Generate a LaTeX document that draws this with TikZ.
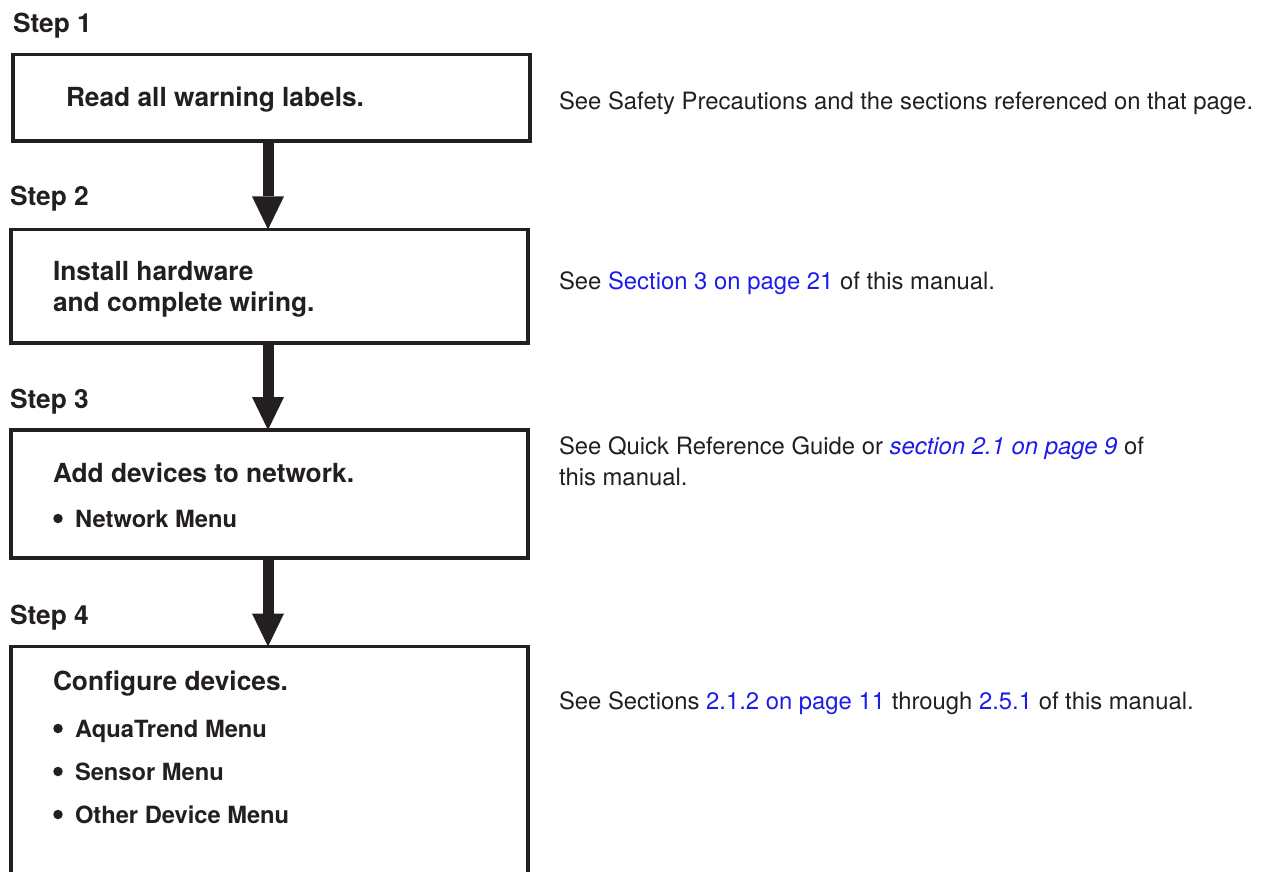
\documentclass[tikz,border=0pt]{standalone}
\usepackage{fontspec}
\setmainfont{TeX Gyre Heros}
\usetikzlibrary{arrows.meta}
\definecolor{ink}{RGB}{35,31,32}
\definecolor{linkblue}{RGB}{28,28,235}
\begin{document}
\begin{tikzpicture}[x=1pt,y=-1pt,
  box/.style={draw=ink,line width=3.6pt,inner sep=0pt,outer sep=0pt,rectangle},
  txt/.style={inner sep=0pt,outer sep=0pt,anchor=base west,text=ink,align=left},
  head/.style={txt,font=\fontsize{26.3}{31}\selectfont\bfseries},
  item/.style={txt,font=\fontsize{23.7}{28}\selectfont\bfseries},
  note/.style={txt,font=\fontsize{23.85}{31}\selectfont},
  dot/.style={circle,fill=ink,inner sep=0pt,minimum size=9.5pt},
  flow/.style={draw=ink,line width=11pt,-{Triangle[width=32pt,length=33pt,line width=0pt]}},
  link/.style={text=linkblue}]
\useasboundingbox (0,0) rectangle (1263,871);
\clip (0,0) rectangle (1263,871);

% boxes
\node[box,minimum width=517.5pt,minimum height=86.5pt] (b1) at (271.5,97.75) {};
\node[box,minimum width=517.3pt,minimum height=113.7pt] (b2) at (269.4,286.2) {};
\node[box,minimum width=517.3pt,minimum height=128pt] (b3) at (269.4,494) {};
\node[box,minimum width=517.3pt,minimum height=300pt] (b4) at (269.4,796.5) {};

% step labels
\node[head] (s1) at (13,32) {Step 1};
\node[head] (s2) at (10,205) {Step 2};
\node[head] (s3) at (10,408) {Step 3};
\node[head] (s4) at (10,624) {Step 4};

% box texts
\node[head] (t1) at (66,106.5) {Read all warning labels.};
\node[head] (t2a) at (53,280) {Install hardware};
\node[head] (t2b) at (53,311) {and complete wiring.};
\node[head] (t3) at (53,482) {Add devices to network.};
\node[head] (t4) at (53,690) {Configure devices.};

\node[item] (i31) at (75,527) {Network Menu};
\node[item] (i41) at (75,737) {AquaTrend Menu};
\node[item] (i42) at (75,780) {Sensor Menu};
\node[item] (i43) at (75,823) {Other Device Menu};
\node[dot] (d31) at (58,518.5) {};
\node[dot] (d41) at (58,728.5) {};
\node[dot] (d42) at (58,771.5) {};
\node[dot] (d43) at (58,814.5) {};

% notes
\node[note] (n1) at (559,109) {See Safety Precautions and the sections referenced on that page.};
\node[note] (n2) at (559,289) {See \textcolor{linkblue}{Section 3 on page 21} of this manual.};
\node[note] (n3a) at (559,454) {See Quick Reference Guide or \textcolor{linkblue}{\itshape section 2.1 on page 9} of};
\node[note] (n3b) at (559,485) {this manual.};
\node[note] (n4) at (559,709) {See Sections \textcolor{linkblue}{2.1.2 on page 11} through \textcolor{linkblue}{2.5.1} of this manual.};

% arrows
\coordinate (ax) at (268,0);
\draw[flow] (b1.south -| ax) -- (b2.north -| ax);
\draw[flow] (b2.south -| ax) -- (b3.north -| ax);
\draw[flow] (b3.south -| ax) -- (b4.north -| ax);
\end{tikzpicture}
\end{document}
